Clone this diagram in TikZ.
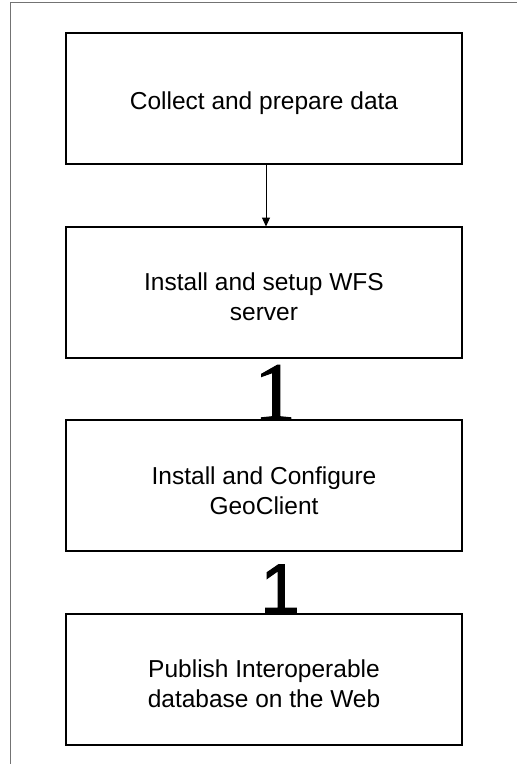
\documentclass[tikz,border=0pt]{standalone}
\usepackage{fontspec}
\setmainfont{Liberation Sans}
\newfontfamily\serifDigit[FakeBold=1.5]{Liberation Serif}
\newfontfamily\sansDigit[FakeBold=1.5]{Liberation Sans}
\usetikzlibrary{positioning}
\usetikzlibrary{arrows.meta}
\tikzstyle{stepBox} = [draw=black, line width=2pt, outer sep=0pt, minimum width=396pt, minimum height=131pt]
\tikzstyle{stepText} = [align=center, font=\fontsize{24.5}{30}\selectfont, yshift=-5pt]
\tikzstyle{frameLine} = [color=black!55, line width=1pt]
\tikzstyle{stepArrow} = [line width=1pt, -{Triangle[length=9pt, width=8pt]}]
\tikzstyle{bigDigit} = [anchor=base, inner sep=0pt, outer sep=0pt]
\newcommand{\serifOne}{\fontsize{83}{83}\serifDigit}
\newcommand{\sansOne}{\fontsize{71}{71}\sansDigit}

\begin{document}
\begin{tikzpicture}[x = 1pt, y = -1pt, node distance = 62.5pt]
            \useasboundingbox (0,0) rectangle (517,764);
            \draw [frameLine] (517,2) -- (10.5,2) -- (10.5,764);

            \node [stepBox, label={[stepText, name=collectText]center:Collect and prepare data}] (collect) at (264,98.5) {};
            \node [stepBox, below = of collect, label={[stepText, name=serverText]center:Install and setup WFS\\server}] (server) {};
            \node [stepBox, below = of server, label={[stepText, name=clientText]center:Install and Configure\\GeoClient}] (client) {};
            \node [stepBox, below = of client, label={[stepText, name=publishText]center:Publish Interoperable\\database on the Web}] (publish) {};

            \draw [stepArrow] ([xshift=2pt]collect.south) -- ([xshift=2pt]server.north);
            \node [bigDigit, font=\serifOne] (oneServer) at ([xshift=11pt]client.north) {1};
            \node [bigDigit, font=\sansOne] (oneClient) at ([xshift=16pt]publish.north) {1};
          \end{tikzpicture}
\end{document}
